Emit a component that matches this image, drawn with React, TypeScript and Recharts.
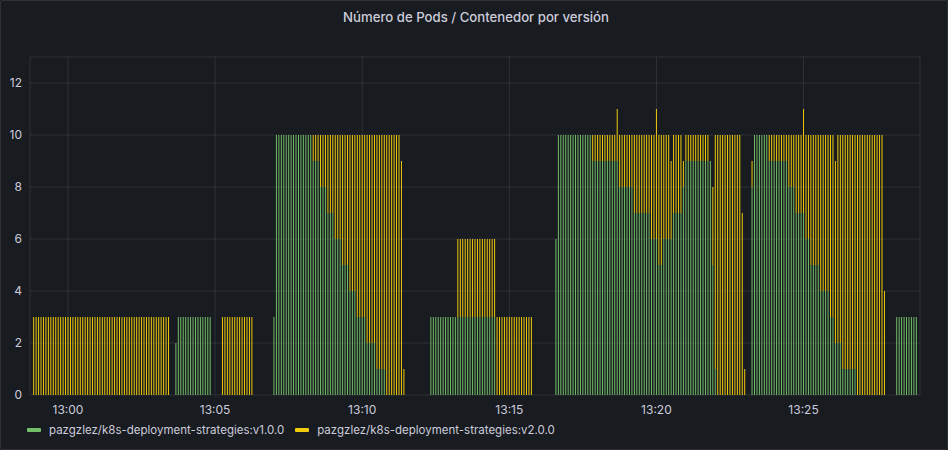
import React from "react";
import { BarChart, Bar, XAxis, YAxis, CartesianGrid } from "recharts";

const GREEN = "#73BF69";
const YELLOW = "#F2CC0C";
const TEXT = "#ccccdc";
const FONT = "Inter, Roboto, sans-serif";

// first sample 12:58:45, one sample every 5 s
const startSeconds = 12 * 3600 + 58 * 60 + 45;
const stepSeconds = 5;

// runs of samples: [count, v1.0.0, v2.0.0], null = no sample
type Run = [number, number | null, number | null];

const idleRuns: Run[] = [
  [1, null, null], [56, 0, 3], [2, null, null], [1, 2, 0], [14, 3, 0],
  [4, null, null], [13, 0, 3], [8, null, null],
];
const rollout1Runs: Run[] = [
  [1, 3, 0], [15, 10, 0], [3, 9, 1], [3, 8, 2], [3, 7, 3], [3, 6, 4],
  [3, 5, 5], [3, 4, 6], [4, 3, 7], [4, 2, 8], [4, 1, 9], [6, 0, 10],
  [1, 0, 9], [1, 0, 1], [10, null, null],
];
const blueGreenRuns: Run[] = [
  [11, 3, 0], [16, 3, 3], [15, 0, 3], [9, null, null],
];
const rollout2Runs: Run[] = [
  [1, 6, 0], [14, 10, 0], [10, 9, 1], [1, 9, 2], [6, 8, 2], [7, 7, 3],
  [2, 6, 4], [1, 6, 5], [2, 5, 5], [3, 6, 4], [1, 6, 3], [4, 7, 3],
  [1, 8, 1], [10, 9, 1], [1, 9, 0], [1, 5, 3], [1, 1, 9], [10, 0, 10],
  [1, 0, 7], [1, 0, 1], [2, null, null],
];
const rollout3Runs: Run[] = [
  [1, 8, 1], [6, 10, 0], [8, 9, 1], [3, 8, 2], [3, 7, 3], [1, 7, 4],
  [2, 6, 4], [4, 5, 5], [4, 4, 6], [2, 3, 7], [1, 2, 7], [2, 2, 8],
  [6, 1, 9], [11, 0, 10], [1, 0, 4], [4, null, null], [9, 3, 0],
  [1, null, null],
];

const xTicks = ["13:00:00", "13:05:00", "13:10:00", "13:15:00", "13:20:00", "13:25:00"];
const yTicks = [0, 2, 4, 6, 8, 10, 12];

const seriesNames = [
  "pazgzlez/k8s-deployment-strategies:v1.0.0",
  "pazgzlez/k8s-deployment-strategies:v2.0.0",
];

const pad = (n: number) => String(n).padStart(2, "0");
const timeLabel = (s: number) =>
  `${pad(Math.floor(s / 3600))}:${pad(Math.floor((s % 3600) / 60))}:${pad(s % 60)}`;

const data: { time: string; v1: number | null; v2: number | null }[] = [];
[...idleRuns, ...rollout1Runs, ...blueGreenRuns, ...rollout2Runs, ...rollout3Runs].forEach(
  ([count, v1, v2]) => {
    for (let k = 0; k < count; k++) {
      data.push({ time: timeLabel(startSeconds + data.length * stepSeconds), v1, v2 });
    }
  }
);

export default function App() {
  return (
    <div
      style={{
        position: "relative",
        width: 948,
        height: 450,
        background: "#181b1f",
        boxShadow: "inset 0 0 0 1px rgba(204,204,220,0.12)",
        borderRadius: 2,
        fontFamily: FONT,
        overflow: "hidden",
      }}
    >
      <style>{"body{margin:0;background:#111217}"}</style>
      <div
        style={{
          position: "absolute",
          top: 7,
          left: 2,
          width: 948,
          textAlign: "center",
          color: TEXT,
          fontSize: 13.2,
          fontWeight: 500,
          lineHeight: "20px",
        }}
      >
        Número de Pods / Contenedor por versión
      </div>
      <div style={{ position: "absolute", left: 0, top: 0 }}>
        <BarChart
          width={948}
          height={450}
          data={data}
          margin={{ top: 57, right: 28, bottom: 25, left: 0 }}
          barCategoryGap="30%"
        >
          <CartesianGrid stroke="rgba(204,204,220,0.12)" />
          <XAxis
            dataKey="time"
            ticks={xTicks}
            interval={0}
            tickFormatter={(t: string) => t.slice(0, 5)}
            axisLine={false}
            tickLine={false}
            tickMargin={4}
            height={30}
            tick={{ fill: TEXT, fontSize: 12, fontFamily: FONT }}
          />
          <YAxis
            domain={[0, 13]}
            ticks={yTicks}
            axisLine={false}
            tickLine={false}
            width={30}
            tick={{ fill: TEXT, fontSize: 12, fontFamily: FONT }}
          />
          <Bar dataKey="v1" stackId="a" fill={GREEN} isAnimationActive={false} />
          <Bar dataKey="v2" stackId="a" fill={YELLOW} isAnimationActive={false} />
        </BarChart>
      </div>
      <div
        style={{
          position: "absolute",
          left: 27,
          top: 421,
          display: "flex",
          alignItems: "center",
          color: TEXT,
          fontSize: 11.5,
          lineHeight: "18px",
        }}
      >
        {seriesNames.map((name, i) => (
          <div key={name} style={{ display: "flex", alignItems: "center", marginRight: 11 }}>
            <span
              style={{
                display: "inline-block",
                width: 14,
                height: 4,
                borderRadius: 1,
                background: i === 0 ? GREEN : YELLOW,
                marginRight: 8,
              }}
            />
            {name}
          </div>
        ))}
      </div>
    </div>
  );
}
